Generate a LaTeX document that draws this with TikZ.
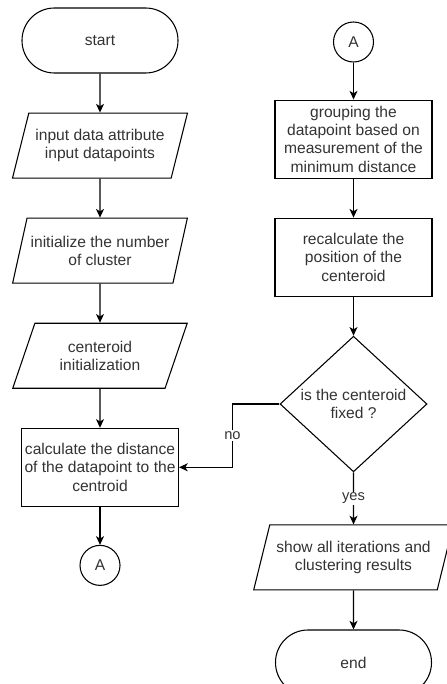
\documentclass[tikz,border=0pt]{standalone}
\usepackage{fontspec}
\setmainfont{Liberation Sans}
\usetikzlibrary{shapes.geometric,arrows.meta,positioning}

\begin{document}
\begin{tikzpicture}[
    x=0.75pt, y=-0.75pt,
    node distance=29.25pt,
    every node/.style={font=\fontsize{11.7}{13.8}\selectfont, text=black!80},
    term/.style={rectangle, draw, rounded corners=24.3pt, minimum width=117pt, minimum height=48.75pt, line width=0.8pt},
    io/.style={trapezium, trapezium left angle=70.5, trapezium right angle=109.5, trapezium stretches=true, draw, align=center, minimum width=131.25pt, minimum height=48.75pt, inner xsep=0pt, line width=0.8pt},
    proc/.style={rectangle, draw, align=center, minimum width=117.75pt, minimum height=58.5pt, inner xsep=2pt, inner ysep=0.5pt, line width=0.8pt},
    conn/.style={circle, draw, minimum size=30pt, inner sep=0pt, line width=0.8pt},
    dec/.style={diamond, draw, align=center, minimum width=110.25pt, minimum height=97.5pt, inner sep=0pt, line width=0.8pt},
    lbl/.style={fill=white, inner sep=1pt, font=\fontsize{11}{13}\selectfont},
    arr/.style={-{Stealth[length=6.5pt, width=6pt, inset=1.8pt]}, line width=0.8pt}
]
    \useasboundingbox (0,0) rectangle (446,684);

    % left column
    \node [term] (start) at (100,40.5) {start};
    \node [io, below=of start] (inp) {input data attribute\\input datapoints};
    \node [io, below=of inp] (init) {initialize the number\\of cluster};
    \node [io, below=of init] (cinit) {centeroid\\initialization};
    \node [proc, below=of cinit] (calc) {calculate the distance\\of the datapoint to the\\centroid};
    \node [conn, below=28.5pt of calc] (a1) {A};

    % right column
    \node [conn] (a2) at (353.5,42) {A};
    \node [proc, below=27.75pt of a2] (grp) {grouping the\\datapoint based on\\measurement of the\\minimum distance};
    \node [proc, below=of grp] (recalc) {recalculate the\\position of the\\centeroid};
    \node [dec, below=of recalc] (fixed) {is the centeroid\\fixed ?};
    \node [io, minimum width=150pt, below=39pt of fixed] (show) {show all iterations and\\clustering results};
    \node [term, below=of show] (stop) {end};

    \draw [arr] (start) -- (inp);
    \draw [arr] (inp) -- (init);
    \draw [arr] (init) -- (cinit);
    \draw [arr] (cinit) -- (calc);
    \draw [arr] (calc) -- (a1);
    \draw [arr] (a2) -- (grp);
    \draw [arr] (grp) -- (recalc);
    \draw [arr] (recalc) -- (fixed);
    \draw [arr] (fixed) -- node [lbl] {yes} (show);
    \draw [arr] (show) -- (stop);
    \draw [arr] (fixed.west) -- ++(-47,0) |- node [lbl, pos=0.25] {no} (calc.east);
\end{tikzpicture}
\end{document}
